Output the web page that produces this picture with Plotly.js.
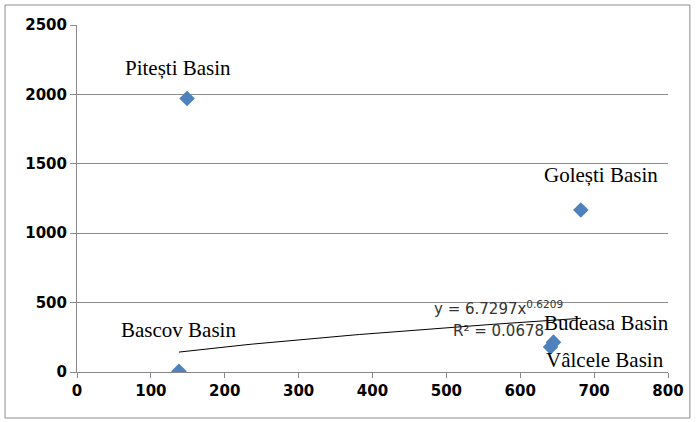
<!DOCTYPE html>
<html><head><meta charset="utf-8">
<script src="https://cdn.plot.ly/plotly-3.0.1.min.js"></script>
<style>html,body{margin:0;padding:0;background:#fff}#chart{width:696px;height:422px}</style>
</head><body><div id="chart"></div>
<script>
var basins = ["Bascov Basin", "Pitești Basin", "Golești Basin", "Budeasa Basin", "Vâlcele Basin"];
var xValues = [138, 149, 682, 645, 641];
var yValues = [5, 1970, 1167, 215, 180];
var fitA = 6.7297, fitB = 0.6209, fitR2 = 0.0678;
var xTicks = [0, 100, 200, 300, 400, 500, 600, 700, 800];
var yTicks = [0, 500, 1000, 1500, 2000, 2500];

var xMin = Math.min.apply(null, xValues), xMax = Math.max.apply(null, xValues);
var tx = [], ty = [];
for (var i = 0; i <= 60; i++) { var xv = xMin + (xMax - xMin) * i / 60; tx.push(xv); ty.push(fitA * Math.pow(xv, fitB)); }

var labelPos = {
  "Bascov Basin": [137, 303], "Pitești Basin": [137, 2190], "Golești Basin": [709, 1419],
  "Budeasa Basin": [717, 353], "Vâlcele Basin": [715, 86]
};
var ann = basins.map(function (b) {
  return {x: labelPos[b][0], y: labelPos[b][1], xref: 'x', yref: 'y', text: b, showarrow: false,
    font: {family: 'Liberation Serif', size: 21, color: '#000'}};
});
ann.push({x: 570, y: 461, xref: 'x', yref: 'y', showarrow: false, text: 'y = ' + fitA + 'x<sup>' + fitB + '</sup>',
  font: {family: 'DejaVu Sans', size: 15, color: '#333'}});
ann.push({x: 570, y: 295, xref: 'x', yref: 'y', showarrow: false, text: 'R² = ' + fitR2,
  font: {family: 'DejaVu Sans', size: 15, color: '#333'}});

var data = [
  {x: tx, y: ty, mode: 'lines', line: {color: '#000', width: 1}, hoverinfo: 'skip'},
  {x: xValues, y: yValues, mode: 'markers', text: basins,
   marker: {symbol: 'diamond', size: 12, color: '#4F81BD'}}
];
var tf = {family: 'DejaVu Sans', size: 15, color: '#000', weight: 'bold'};
var layout = {
  width: 696, height: 422, showlegend: false,
  margin: {l: 77, r: 28, t: 25, b: 50},
  paper_bgcolor: '#fff', plot_bgcolor: '#fff',
  xaxis: {range: [0, 800], tickvals: xTicks, ticks: 'outside', ticklen: 5, tickcolor: '#888',
    showgrid: false, zeroline: false, showline: true, linecolor: '#888', linewidth: 1, tickfont: tf},
  yaxis: {range: [0, 2500], tickvals: yTicks, ticks: 'outside', ticklen: 6, tickcolor: '#888',
    showgrid: true, gridcolor: '#8c8c8c', gridwidth: 1, zeroline: false, showline: true, linecolor: '#888', linewidth: 1, tickfont: tf},
  annotations: ann,
  shapes: [{type: 'rect', xref: 'paper', yref: 'paper', x0: -0.1218, x1: 1.037, y0: -0.1326, y1: 1.0576,
    line: {color: '#8c8c8c', width: 1}}]
};
Plotly.newPlot('chart', data, layout, {displayModeBar: false});
</script></body></html>
